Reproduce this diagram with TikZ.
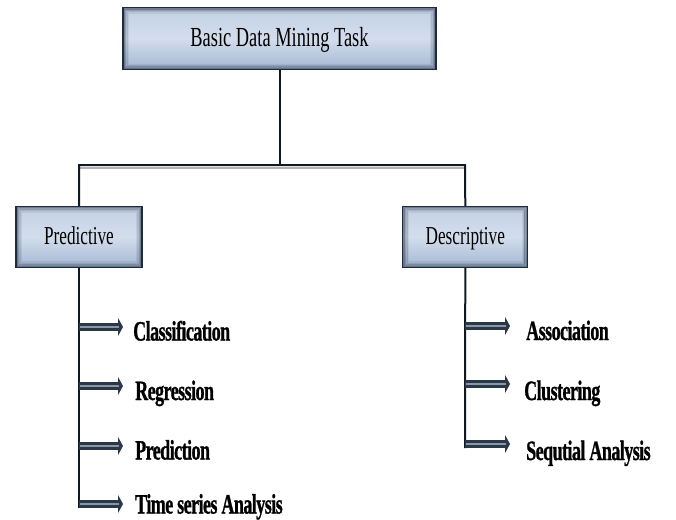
\documentclass[tikz,border=0pt]{standalone}
\usepackage{fontspec}
\setmainfont{Liberation Serif}
\newfontfamily\lblfont{Liberation Serif}[BoldFeatures={FakeBold=1.2}, LetterSpace=-3]
\usetikzlibrary{arrows.meta}
\definecolor{boxborder}{HTML}{1E2B3C}
\definecolor{boxtop}{HTML}{C3D1E5}
\definecolor{boxmid}{HTML}{D3DDEC}
\definecolor{boxbot}{HTML}{A3B7D2}
\definecolor{linecol}{HTML}{0F1825}
\definecolor{arrdark}{HTML}{2A3848}
\definecolor{arrlight}{HTML}{8A97A8}
\tikzset{
  box/.style={rectangle, draw=boxborder, line width=1.3pt,
    top color=boxtop, bottom color=boxbot, middle color=boxmid,
    inner sep=0pt, text height=18pt, text depth=3pt,
    path picture={
      \foreach \i/\o in {1.2/0.5,2.6/0.32,4/0.18,5.4/0.08}{
        \draw[boxborder, opacity=\o, line width=1.5pt]
          ([xshift=\i pt,yshift=-\i pt]path picture bounding box.north west)
          rectangle ([xshift=-\i pt,yshift=\i pt]path picture bounding box.south east);
      }
    }},
  conn/.style={draw=linecol, line width=2pt},
  shadowline/.style={draw=black!30, line width=2pt},
  lbl/.style={anchor=base west, inner sep=0pt},
  arrshaft/.style={draw=arrdark, line width=8pt, -{Triangle[length=5pt,width=18pt]}},
  arrhigh/.style={draw=arrlight, line width=2.5pt}
}
\newcommand{\boxtext}[2]{\scalebox{1}[1.5]{\fontsize{#1}{#1}\selectfont #2}}
\newcommand{\lbltext}[1]{\scalebox{0.9}[1.4]{\fontsize{20}{20}\lblfont\bfseries #1}}
\begin{document}
\begin{tikzpicture}[x=1pt,y=-1pt]
\useasboundingbox (0,0) rectangle (676,519);
% boxes
\node[box, minimum width=313pt, minimum height=62pt] (top) at (279.5,38.7) {\boxtext{18.4}{Basic Data Mining Task}};
\node[box, minimum width=126pt, minimum height=61pt] (pred) at (79,237) {\boxtext{17.2}{Predictive}};
\node[box, minimum width=125pt, minimum height=61pt] (desc) at (465.3,237) {\boxtext{17.2}{Descriptive}};
% tree connectors
\coordinate (j) at (280,165);
\coordinate (jl) at (79,165);
\coordinate (jr) at (465,165);
\draw[shadowline] ([yshift=-2.5pt]jl) -- ([yshift=-2.5pt]jr);
\draw[conn] (top.south -| j) -- (j);
\draw[conn] (pred.north) -- (jl) -- (jr) -- (desc.north);
% left branch
\coordinate (lend) at (79,508);
\draw[conn] (pred.south) -- (lend);
\coordinate (l1) at (79,327);
\coordinate (l2) at (79,386);
\coordinate (l3) at (79,446);
\coordinate (l4) at (79,504);
\node[lbl] (c1) at (133,340.5) {\lbltext{Classification}};
\node[lbl] (c2) at (135,400) {\lbltext{Regression}};
\node[lbl] (c3) at (135,459.5) {\lbltext{Prediction}};
\node[lbl] (c4) at (135,513.5) {\lbltext{Time series Analysis}};
% right branch
\coordinate (rend) at (465,448);
\draw[conn] (desc.south) -- (rend);
\coordinate (r1) at (465,326);
\coordinate (r2) at (465,384);
\coordinate (r3) at (465,444);
\node[lbl] (d1) at (526,340) {\lbltext{Association}};
\node[lbl] (d2) at (524,400) {\lbltext{Clustering}};
\node[lbl] (d3) at (526,460) {\lbltext{Sequtial Analysis}};
% arrows
\foreach \a/\b/\s in {l1/c1/10, l2/c2/12, l3/c3/12, l4/c4/12, r1/d1/16, r2/d2/14, r3/d3/16}{
  \draw[arrshaft, shorten >=\s pt] (\a) -- (\a -| \b.west);
  \draw[arrhigh, shorten >=\s pt+4pt] ([xshift=1pt]\a) -- (\a -| \b.west);
}
\end{tikzpicture}
\end{document}
